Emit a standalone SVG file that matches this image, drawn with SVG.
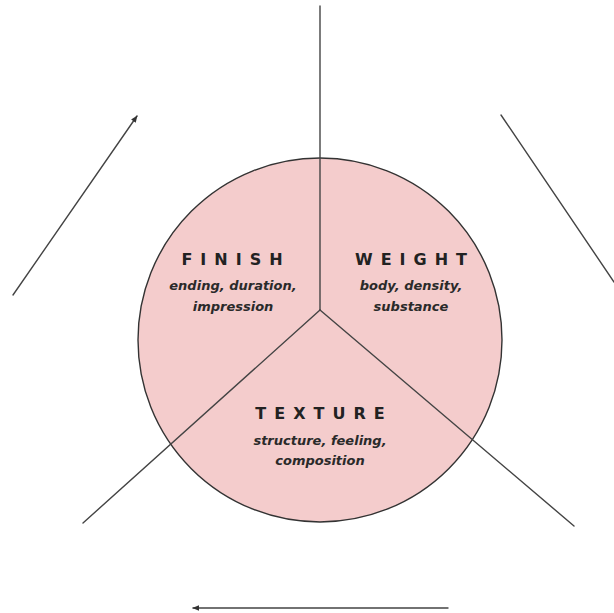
<svg xmlns="http://www.w3.org/2000/svg" width="614" height="613" viewBox="0 0 614 613">
<defs>
<marker id="ah" viewBox="0 0 10 10" refX="9" refY="5" markerWidth="7" markerHeight="7" markerUnits="userSpaceOnUse" orient="auto">
<path d="M0,1 L10,5 L0,9 Z" fill="#333"/>
</marker>
<style>
.ln{stroke:#444;stroke-width:1.4;fill:none;stroke-linecap:round}
.t{font-family:"DejaVu Sans","Liberation Sans",sans-serif;font-weight:700;font-size:16px;letter-spacing:8px;fill:#222;text-anchor:middle}
.s{font-family:"DejaVu Sans","Liberation Sans",sans-serif;font-style:italic;font-weight:700;font-size:13px;fill:#2a2a2a;text-anchor:middle}
</style>
</defs>
<rect width="614" height="613" fill="#fff"/>
<g id="circle">
<circle cx="320" cy="340" r="182" fill="#f4cccc" stroke="#333" stroke-width="1.4"/>
</g>
<g id="connectors">
<line class="ln" x1="320" y1="6" x2="320" y2="310"/>
<line class="ln" x1="320" y1="310" x2="83" y2="523"/>
<line class="ln" x1="320" y1="310" x2="574" y2="526"/>
<line class="ln" x1="13" y1="295" x2="137" y2="116" marker-end="url(#ah)"/>
<line class="ln" x1="501" y1="115" x2="614" y2="282"/>
<line class="ln" x1="448" y1="608" x2="193" y2="608" marker-end="url(#ah)"/>
</g>
<g id="finish">
<text class="t" x="236" y="265">FINISH</text>
<text class="s" x="233" y="290">ending, duration,</text>
<text class="s" x="233" y="311">impression</text>
</g>
<g id="weight">
<text class="t" x="415" y="265">WEIGHT</text>
<text class="s" x="411" y="290">body, density,</text>
<text class="s" x="411" y="311">substance</text>
</g>
<g id="texture">
<text class="t" x="324" y="419">TEXTURE</text>
<text class="s" x="320" y="445">structure, feeling,</text>
<text class="s" x="320" y="465">composition</text>
</g>
</svg>
